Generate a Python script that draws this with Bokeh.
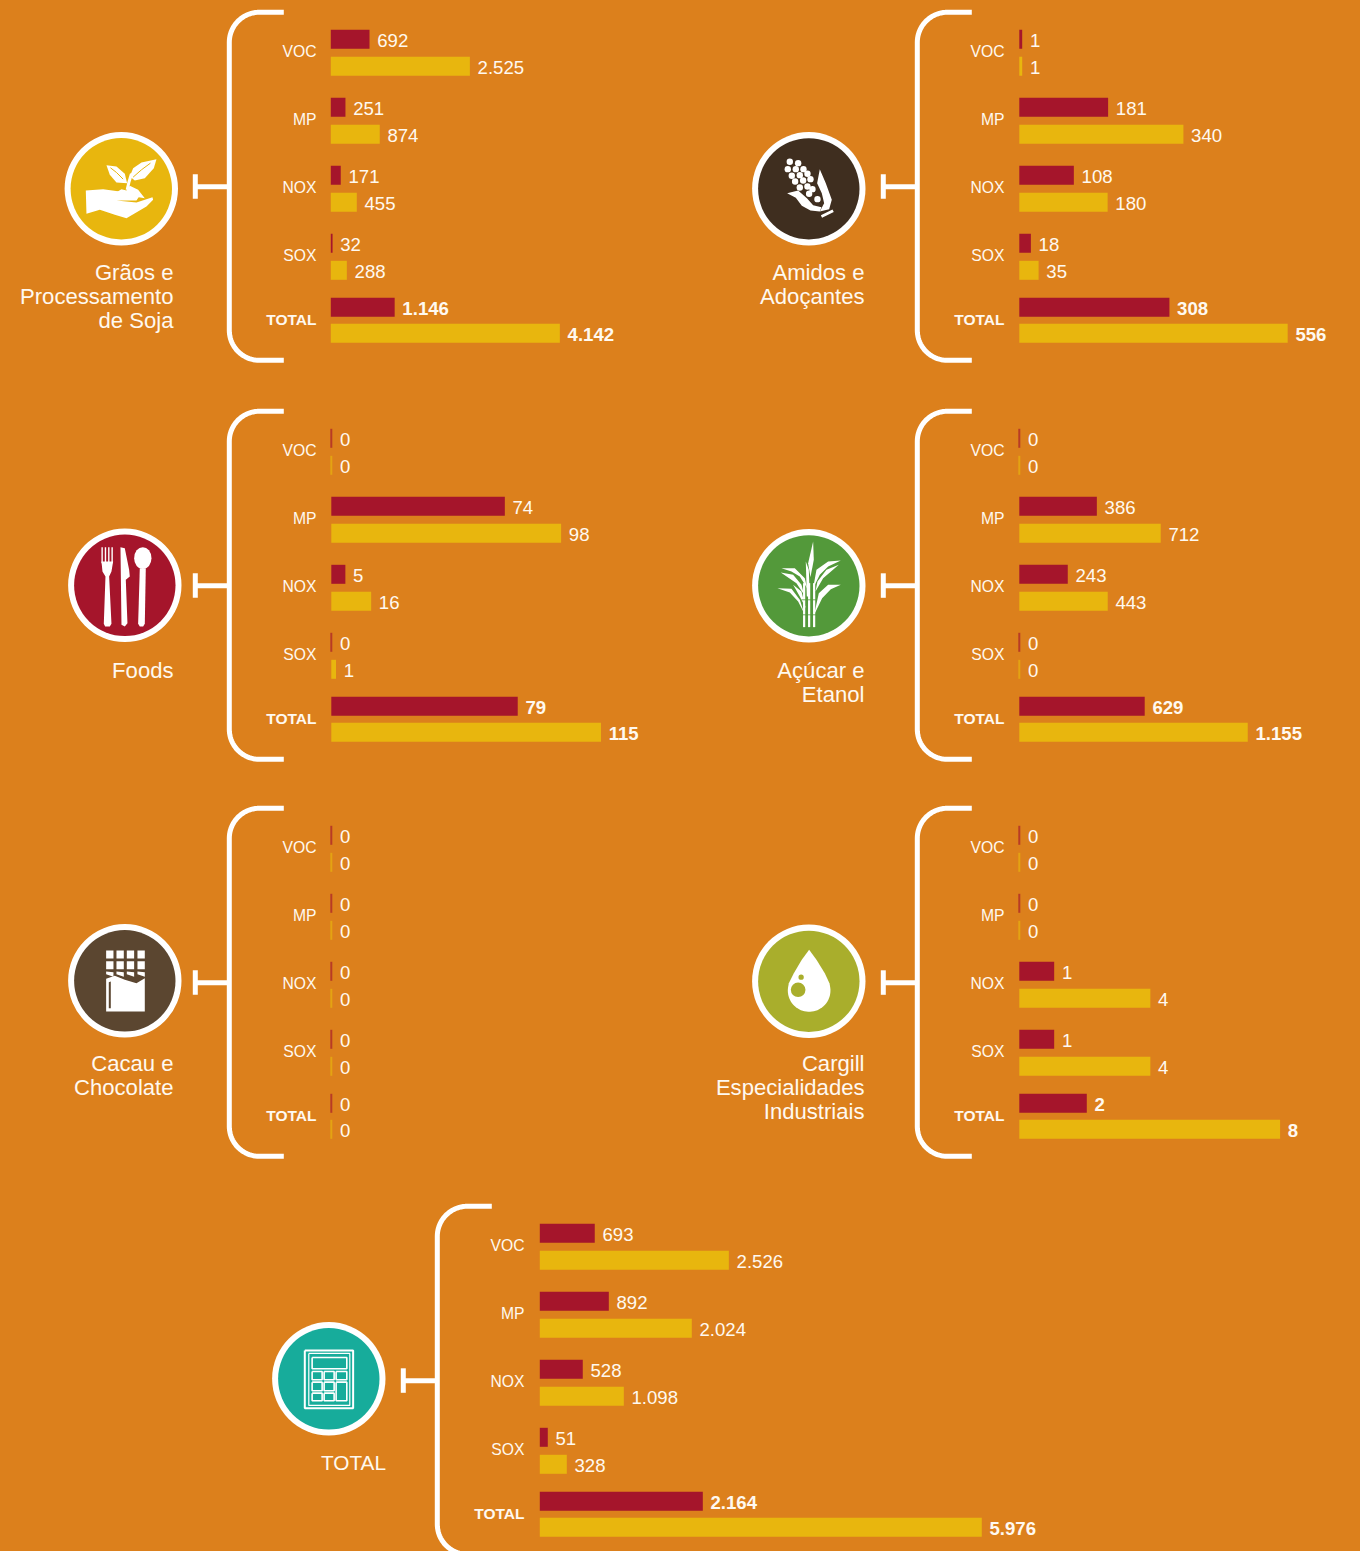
import numpy as np
from bokeh.embed import file_html
from bokeh.models import Range1d
from bokeh.plotting import figure
from bokeh.resources import INLINE
from bokeh.core.properties import value

# ---- data -------------------------------------------------------------
metrics = ["VOC", "MP", "NOX", "SOX", "TOTAL"]

graos_red_labels = ["692", "251", "171", "32", "1.146"]
graos_yel_labels = ["2.525", "874", "455", "288", "4.142"]
graos_red = [700, 265, 180, 32, 1155]
graos_yel = [2515, 885, 470, 290, 4142]

amidos_red_labels = ["1", "181", "108", "18", "308"]
amidos_yel_labels = ["1", "340", "180", "35", "556"]
amidos_red = [6, 184, 113, 24, 311]
amidos_yel = [6, 340, 183, 40, 556]

foods_red_labels = ["0", "74", "5", "0", "79"]
foods_yel_labels = ["0", "98", "16", "1", "115"]
foods_red = [0, 74, 6, 0, 79.5]
foods_yel = [0, 98, 17, 2, 115]

acucar_red_labels = ["0", "386", "243", "0", "629"]
acucar_yel_labels = ["0", "712", "443", "0", "1.155"]
acucar_red = [0, 392, 245, 0, 634]
acucar_yel = [0, 715, 447, 0, 1155]

cacau_red_labels = ["0", "0", "0", "0", "0"]
cacau_yel_labels = ["0", "0", "0", "0", "0"]
cacau_red = [0, 0, 0, 0, 0]
cacau_yel = [0, 0, 0, 0, 0]

cargill_red_labels = ["0", "0", "1", "1", "2"]
cargill_yel_labels = ["0", "0", "4", "4", "8"]
cargill_red = [0, 0, 1.07, 1.07, 2.07]
cargill_yel = [0, 0, 4.02, 4.02, 8]

total_red_labels = ["693", "892", "528", "51", "2.164"]
total_yel_labels = ["2.526", "2.024", "1.098", "328", "5.976"]
total_red = [743, 933, 581, 108, 2204]
total_yel = [2556, 2055, 1136, 365, 5976]

# ---- style ------------------------------------------------------------
BG = "#DC801C"
RED = "#A5152B"
YEL = "#E8B60E"
INK = "#FFF9F0"
FONT = "Liberation Sans"
SHIFT = 0.7

p = figure(width=1360, height=1551, output_backend="svg", toolbar_location=None,
           x_range=Range1d(SHIFT, 1360 + SHIFT), y_range=Range1d(1551 + SHIFT, SHIFT),
           min_border=0, min_border_left=0, min_border_right=0,
           min_border_top=0, min_border_bottom=0,
           background_fill_color=BG, border_fill_color=BG,
           outline_line_color=None)
p.styles = {"background-color": BG}
p.axis.visible = False
p.grid.visible = False

RED_Y = [39.5, 107.5, 175.5, 243.5, 307.5]
YEL_Y = [66.5, 134.5, 202.5, 270.5, 333.5]
LAB_Y = [51, 119, 187, 255, 319]


def T(x, y, s, size, bold=False, align="left", **kw):
    p.text([x + 0.7], [y + 0.8], text=[s], text_font=value(FONT), text_font_size=f"{size}px",
           text_color=INK, text_align=align, text_baseline="middle",
           text_font_style="bold" if bold else "normal", **kw)


def panel(name, dx, dy, x0, px_scale, red, yel, red_lab, yel_lab):
    rn = "r_" + name
    x0s = x0 - SHIFT
    p.extra_x_ranges[rn] = Range1d(-x0s / px_scale, (1360 - x0s) / px_scale)
    # bracket
    r = 30
    t = np.linspace(0, np.pi / 2, 24)
    xl, yt, yb, xe = 229.5 + dx, 12.5 + dy, 360.5 + dy, 284 + dx
    xs = [xe] + list(xl + r - r * np.sin(t)) + list(xl + r - r * np.cos(t)) + [xe]
    ys = [yt] + list(yt + r - r * np.cos(t)) + list(yb - r + r * np.sin(t)) + [yb]
    p.line(xs, ys, line_color="white", line_width=5)
    # tee
    p.segment([195.5 + dx], [187 + dy], [xl], [187 + dy], line_color="white", line_width=5)
    p.segment([195.5 + dx], [174.5 + dy], [195.5 + dx], [199 + dy], line_color="white", line_width=5)
    # labels, bars
    for i, m in enumerate(metrics):
        b = m == "TOTAL"
        T(316 + dx, LAB_Y[i] + dy, m, 15.5 if b else 15.7, bold=b, align="right")
        for v, lab, yy, col in ((red[i], red_lab[i], RED_Y[i], RED), (yel[i], yel_lab[i], YEL_Y[i], YEL)):
            y = yy + dy
            if v == 0:
                p.segment([0], [y - 9.5], [0], [y + 9.5], x_range_name=rn, line_color=col,
                          line_width=2, line_alpha=0.65)
            else:
                p.hbar(y=[y], left=[0], right=[v], height=19, x_range_name=rn,
                       fill_color=col, line_color=None)
            p.text([v], [y + 1.2], text=[lab], x_offset=7.7 if v else 8.7, x_range_name=rn,
                   text_font=value(FONT), text_font_size="18.6px", text_color=INK,
                   text_baseline="middle", text_font_style="bold" if (b and v) else "normal")


# ---- panels --------------------------------------------------------------
panel("graos", 0, 0, 331, 0.0553, graos_red, graos_yel, graos_red_labels, graos_yel_labels)
panel("amidos", 688, 0, 1019.5, 0.4827, amidos_red, amidos_yel, amidos_red_labels, amidos_yel_labels)
panel("foods", 0, 399, 331.5, 2.345, foods_red, foods_yel, foods_red_labels, foods_yel_labels)
panel("acucar", 688, 399, 1019.5, 0.1978, acucar_red, acucar_yel, acucar_red_labels, acucar_yel_labels)
panel("cacau", 0, 796, 331.5, 1.0, cacau_red, cacau_yel, cacau_red_labels, cacau_yel_labels)
panel("cargill", 688, 796, 1019.5, 32.6, cargill_red, cargill_yel, cargill_red_labels, cargill_yel_labels)
panel("total", 208, 1194, 540, 0.07396, total_red, total_yel, total_red_labels, total_yel_labels)


def caption(right, y0, lines, size=22.1):
    for i, s in enumerate(lines):
        T(right, y0 + i * 24, s, size, align="right")


caption(173, 272, ["Grãos e", "Processamento", "de Soja"])
caption(864, 272, ["Amidos e", "Adoçantes"])
caption(173, 670, ["Foods"])
caption(864, 670, ["Açúcar e", "Etanol"])
caption(173, 1063, ["Cacau e", "Chocolate"])
caption(864, 1063, ["Cargill", "Especialidades", "Industriais"])
caption(385.5, 1462, ["TOTAL"], size=20.8)


def disc(cx, cy, col):
    p.circle([cx], [cy], radius=56.7, fill_color="white", line_color=None)
    p.circle([cx], [cy], radius=50.7, fill_color=col, line_color=None)


def poly(ox, oy, pts, col="white"):
    p.patch([ox + a / 3 for a, _ in pts], [oy + b / 3 for _, b in pts],
            fill_color=col, line_color=None)


def pl(ox, oy, pts, w, col="white"):
    p.line([ox + a / 3 for a, _ in pts], [oy + b / 3 for _, b in pts], line_color=col, line_width=w)


def dot(ox, oy, a, b, r, col="white"):
    p.circle([ox + a / 3], [oy + b / 3], radius=r / 3, fill_color=col, line_color=None)


# --- Grãos icon
disc(121.5, 189, YEL)
o = (80, 150)
poly(*o, [(18, 122), (70, 118), (120, 125), (165, 128), (178, 140), (170, 152), (110, 152), (170, 158),
          (218, 142), (220, 150), (200, 170), (140, 205), (105, 195), (60, 180), (20, 192)])
poly(*o, [(105, 130), (125, 118), (140, 122), (150, 108), (175, 120), (195, 145), (150, 138)])
pl(*o, [(142, 120), (148, 95), (155, 72)], 3)
poly(*o, [(150, 80), (160, 55), (185, 38), (230, 28), (222, 55), (195, 85), (165, 92)])
poly(*o, [(80, 46), (110, 50), (135, 72), (142, 100), (110, 98), (90, 75)])
pl(*o, [(160, 82), (185, 60), (212, 40)], 1, YEL)
pl(*o, [(130, 88), (110, 68), (92, 54)], 1, YEL)

# --- Corn icon
disc(809, 189, "#3F2E1F")
o = (770, 150)
for a, b in [(60, 36), (85, 40), (54, 58), (78, 58), (101, 58), (66, 78), (90, 76), (113, 72),
             (76, 95), (100, 92), (122, 88), (90, 113), (113, 110), (128, 118), (118, 132), (143, 148)]:
    dot(*o, a, b, 9.6)
poly(*o, [(52, 130), (85, 122), (112, 146), (130, 166), (155, 172), (150, 185), (122, 182), (96, 168), (78, 144)])
poly(*o, [(150, 58), (168, 100), (186, 150), (178, 178), (150, 185), (163, 160), (156, 130), (142, 100)])
pl(*o, [(155, 200), (190, 183)], 2.8)

# --- Cutlery icon
disc(125, 585.5, RED)
o = (60, 520)
for a in (127, 137, 147, 157):
    pl(*o, [(a, 82), (a, 130)], 1.4)
poly(*o, [(125, 125), (160, 125), (155, 155), (148, 170), (155, 312), (150, 320), (136, 320), (132, 312),
          (137, 170), (128, 155)])
poly(*o, [(182, 82), (195, 85), (208, 150), (210, 170), (198, 180), (203, 310), (195, 320), (185, 315)])
p.ellipse([60 + 249 / 3], [520 + 115 / 3], width=52 / 3, height=66 / 3, fill_color="white", line_color=None)
poly(*o, [(240, 145), (258, 145), (255, 312), (250, 320), (240, 320), (235, 312)])

# --- Cane icon
disc(809, 586, "#53993A")
o = (745, 520)
for a in (178, 193, 208):
    pl(*o, [(a, 322), (a, 190)], 2.2)
poly(*o, [(205, 65), (207, 120), (197, 172), (190, 130)])
poly(*o, [(183, 125), (192, 150), (195, 230), (186, 230)])
poly(*o, [(110, 145), (150, 145), (180, 175), (187, 205), (165, 170), (140, 155)])
poly(*o, [(108, 158), (145, 165), (170, 195), (178, 225), (155, 190)])
poly(*o, [(98, 205), (140, 207), (165, 240), (178, 280), (160, 245), (135, 218)])
poly(*o, [(145, 195), (170, 215), (183, 265), (165, 230)])
poly(*o, [(288, 122), (250, 125), (215, 150), (205, 205), (225, 165), (250, 140)])
poly(*o, [(282, 135), (245, 150), (218, 185), (212, 215), (235, 175)])
poly(*o, [(288, 195), (250, 195), (222, 220), (208, 285), (232, 235), (258, 208)])
for b in (240, 285):
    pl(*o, [(170, b), (215, b)], 0.8, "#53993A")

# --- Chocolate icon
disc(125, 981, "#5B4630")
o = (60, 915)
for a in (139, 170, 201, 233):
    for b in (107, 139):
        poly(*o, [(a, b), (a + 22, b), (a + 22, b + 24), (a, b + 24)])
    poly(*o, [(a, 170), (a + 22, 172), (a + 22, 186), (a, 178)])
poly(*o, [(139, 192), (165, 183), (195, 195), (230, 205), (255, 190), (255, 290), (139, 290)])
poly(*o, [(147, 202), (153, 200), (153, 280), (147, 280)], "#5B4630")

# --- Drop icon
disc(809, 981.5, "#A9AE2C")
o = (770, 940)
t = np.linspace(-0.05 * np.pi, 1.05 * np.pi, 40)
drop = [(118, 30), (140, 60), (165, 100), (179, 130)] + \
       [(118 + 64 * np.cos(v), 152 + 64 * np.sin(v)) for v in t] + [(57, 130), (72, 100), (96, 60)]
poly(*o, drop)
dot(*o, 85, 150, 22, "#A9AE2C")
dot(*o, 94, 112, 8, "#A9AE2C")

# --- Calculator icon
disc(329, 1379, "#17AC9B")
o = (265, 1315)


def box(x1, y1, x2, y2, w=1.6):
    pl(*o, [(x1, y1), (x2, y1), (x2, y2), (x1, y2), (x1, y1)], w)


box(120, 107, 265, 280, 2)
box(132, 116, 255, 272, 1.2)
box(142, 128, 246, 162)
for x1, x2 in ((142, 172), (178, 208), (214, 246)):
    box(x1, 170, x2, 195)
for x1, x2 in ((142, 172), (178, 208)):
    box(x1, 202, x2, 228)
    box(x1, 235, x2, 258)
box(214, 202, 246, 258)

open("out.html", "w").write(file_html(p, INLINE))
